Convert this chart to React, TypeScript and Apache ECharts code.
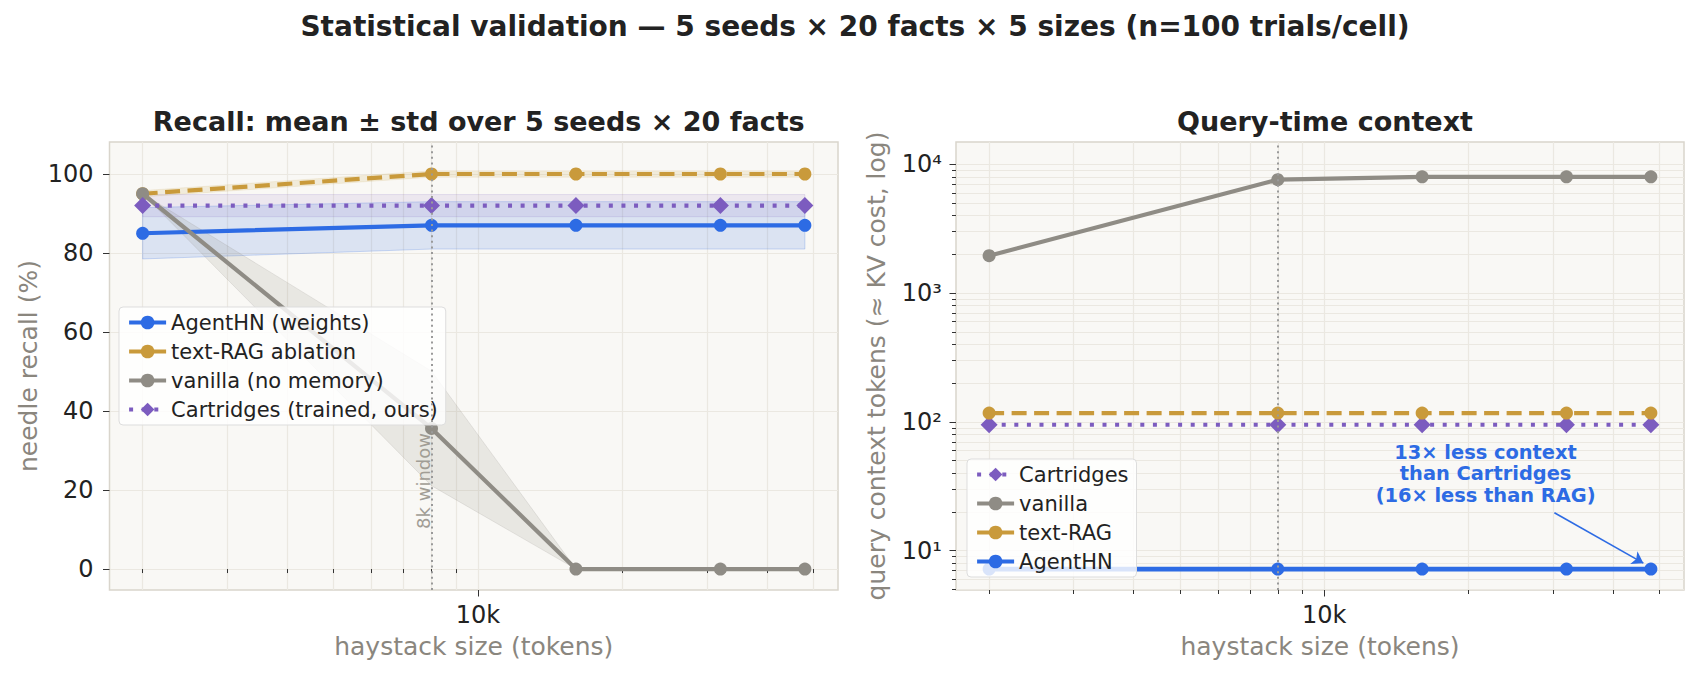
import React, { useEffect, useRef } from 'react';
import * as echarts from 'echarts';

// ---- data ----
const sizes = [2000, 8000, 16000, 32000, 48000];

// needle recall (%), mean and std over seeds
const recallAgent = [85, 87, 87, 87, 87];
const recallAgentStd = [6.5, 6, 6, 6, 6];
const recallRag = [95, 100, 100, 100, 100];
const recallRagStd = [0.8, 0.8, 0.8, 0.8, 0.8];
const recallVanilla = [95, 35.6, 0, 0, 0];
const recallVanillaStd = [0, 14.5, 0, 0, 0];
const recallCart = [92, 92, 92, 92, 92];
const recallCartStd = [2.8, 2.8, 2.8, 2.8, 2.8];

// query-time context tokens
const ctxCart = [95, 95, 95, 95, 95];
const ctxVanilla = [1950, 7600, 8000, 8000, 8000];
const ctxRag = [117, 117, 117, 117, 117];
const ctxAgent = [7.2, 7.2, 7.2, 7.2, 7.2];

// ticks
const xMinorTicks = [2000, 3000, 4000, 5000, 6000, 7000, 8000, 9000, 20000, 30000, 40000, 50000];
const xMajorTicks = [10000];
const recallTicks = [0, 20, 40, 60, 80, 100];
const logMajorTicks = [10, 100, 1000, 10000];
const logMinorTicks = [
  5, 6, 7, 8, 9,
  20, 30, 40, 50, 60, 70, 80, 90,
  200, 300, 400, 500, 600, 700, 800, 900,
  2000, 3000, 4000, 5000, 6000, 7000, 8000, 9000,
];

const windowSize = 8000;
const annotationLines = ['13× less context', 'than Cartridges', '(16× less than RAG)'];

// ---- styling ----
const FONT = 'DejaVu Sans';
const BLUE = '#2d6be4';
const GOLD = '#c99a3b';
const GRAY = '#8f8c85';
const PURPLE = '#7c5cbf';
const GRID_BG = '#f9f8f5';
const GRID_BORDER = '#d9d5cc';
const GRID_LINE = '#ebe8e1';
const AXIS_NAME = '#8a867e';
const TEXT = '#222222';

const TICK_FONT = 24;
const NAME_FONT = 25;
const TITLE_FONT = 27;

const X_MIN = 1706;
const X_MAX = 56270;

const SUP: Record<string, string> = { '0': '⁰', '1': '¹', '2': '²', '3': '³', '4': '⁴', '5': '⁵', '6': '⁶', '7': '⁷', '8': '⁸', '9': '⁹' };
const powLabel = (v: number) =>
  '10' + String(Math.round(Math.log10(v))).split('').map((c) => SUP[c]).join('');

const pairs = (ys: number[]) => sizes.map((x, i) => [x, ys[i]]);

const tickLine = { color: '#333333', width: 1 };
const splitLine = { show: true, lineStyle: { color: GRID_LINE, width: 1.2 } };

function xAxesFor(gridIndex: number) {
  const common = {
    type: 'log',
    logBase: 10,
    gridIndex,
    min: X_MIN,
    max: X_MAX,
    position: 'bottom',
    axisLine: { show: false },
  };
  return [
    {
      ...common,
      axisTick: { show: true, customValues: xMinorTicks, length: 4, lineStyle: tickLine },
      axisLabel: { show: false },
      splitLine,
    },
    {
      ...common,
      axisTick: { show: true, customValues: xMajorTicks, length: 6.5, lineStyle: tickLine },
      axisLabel: {
        show: true,
        customValues: xMajorTicks,
        formatter: (v: number) => `${Math.round(v / 1000)}k`,
        fontSize: TICK_FONT,
        color: TEXT,
        fontFamily: FONT,
        margin: 13,
      },
      splitLine,
      name: 'haystack size (tokens)',
      nameLocation: 'middle',
      nameGap: 44,
      nameTextStyle: { fontSize: NAME_FONT, color: AXIS_NAME, fontFamily: FONT },
    },
  ];
}

function band(
  xAxisIndex: number,
  yAxisIndex: number,
  mean: number[],
  std: number[],
  fill: string,
  stroke: string,
) {
  return {
    type: 'custom',
    xAxisIndex,
    yAxisIndex,
    silent: true,
    z: 1,
    data: [[sizes[0], mean[0]]],
    renderItem: (_p: any, api: any) => {
      const pts: number[][] = [];
      sizes.forEach((x, i) => pts.push(api.coord([x, mean[i] + std[i]])));
      for (let i = sizes.length - 1; i >= 0; i--) pts.push(api.coord([sizes[i], mean[i] - std[i]]));
      return {
        type: 'polygon',
        shape: { points: pts },
        style: { fill, stroke, lineWidth: 1 },
      };
    },
  };
}

function lineSeries(
  name: string,
  ys: number[],
  color: string,
  xAxisIndex: number,
  yAxisIndex: number,
  opts: { dash?: number[]; diamond?: boolean; width?: number } = {},
) {
  return {
    type: 'line',
    name,
    xAxisIndex,
    yAxisIndex,
    data: pairs(ys),
    symbol: opts.diamond ? 'diamond' : 'circle',
    symbolSize: opts.diamond ? 17 : 13,
    showSymbol: true,
    itemStyle: { color },
    lineStyle: {
      color,
      width: opts.width ?? 4.2,
      type: opts.dash ?? 'solid',
      cap: 'butt',
    },
    emphasis: { disabled: true },
    z: 3,
  };
}

const legendBase = {
  orient: 'vertical',
  itemWidth: 37,
  itemHeight: 17,
  itemGap: 6,
  padding: [4, 8, 4, 8],
  backgroundColor: 'rgba(255,255,255,0.82)',
  borderColor: '#dddddd',
  borderWidth: 1,
  borderRadius: 4,
  lineStyle: { width: 4.2 },
  textStyle: { fontSize: 21, color: TEXT, fontFamily: FONT, lineHeight: 23 },
  selectedMode: false,
};

function buildOption() {
  const leftVanilla: any = lineSeries('vanilla (no memory)', recallVanilla, GRAY, 0, 0);
  leftVanilla.markLine = {
    silent: true,
    symbol: ['none', 'none'],
    label: { show: false },
    lineStyle: { color: '#9a9a9a', width: 2, type: [2, 3.6] },
    data: [{ xAxis: windowSize }],
  };
  leftVanilla.markPoint = {
    silent: true,
    symbol: 'rect',
    symbolSize: 1,
    itemStyle: { color: 'transparent' },
    label: {
      show: true,
      position: 'inside',
      formatter: '8k window',
      rotate: 90,
      // offset is in the rotated frame: second component moves the text left
      offset: [0, -8],
      color: '#a19d95',
      fontSize: 18,
      fontFamily: FONT,
    },
    data: [{ coord: [windowSize, 22.3] }],
  };

  const rightVanilla: any = lineSeries('vanilla', ctxVanilla, GRAY, 2, 1);
  rightVanilla.markLine = {
    silent: true,
    symbol: ['none', 'none'],
    label: { show: false },
    lineStyle: { color: '#9a9a9a', width: 2, type: [2, 3.6] },
    data: [{ xAxis: windowSize }],
  };

  const rightAgent: any = lineSeries('AgentHN', ctxAgent, BLUE, 2, 1, { width: 4.8 });
  rightAgent.markLine = {
    silent: true,
    symbol: ['none', 'arrow'],
    symbolSize: 11,
    label: { show: false },
    lineStyle: { color: BLUE, width: 1.6, type: 'solid' },
    data: [[{ coord: [30200, 19.7] }, { coord: [46300, 8.0] }]],
  };
  rightAgent.markPoint = {
    silent: true,
    symbol: 'rect',
    symbolSize: 1,
    itemStyle: { color: 'transparent' },
    label: {
      show: true,
      position: 'inside',
      formatter: annotationLines.join('\n'),
      color: BLUE,
      fontWeight: 'bold',
      fontSize: 19.4,
      lineHeight: 21.7,
      align: 'center',
      fontFamily: FONT,
    },
    data: [{ coord: [21700, 39.4] }],
  };

  const leftNames = ['AgentHN (weights)', 'text-RAG ablation', 'vanilla (no memory)', 'Cartridges (trained, ours)'];
  const rightNames = ['Cartridges', 'vanilla', 'text-RAG', 'AgentHN'];

  const titleStyle = { fontSize: TITLE_FONT, fontWeight: 'bold', color: TEXT, fontFamily: FONT };

  return {
    animation: false,
    backgroundColor: '#ffffff',
    textStyle: { fontFamily: FONT },
    title: [
      {
        text: 'Statistical validation — 5 seeds × 20 facts × 5 sizes (n=100 trials/cell)',
        left: 850,
        top: 7,
        textAlign: 'center',
        textStyle: { ...titleStyle, fontSize: 28 },
      },
      {
        text: 'Recall: mean ± std over 5 seeds × 20 facts',
        left: 473.75,
        top: 103,
        textAlign: 'center',
        textStyle: titleStyle,
      },
      {
        text: 'Query-time context',
        left: 1320,
        top: 103,
        textAlign: 'center',
        textStyle: titleStyle,
      },
    ],
    legend: [
      { ...legendBase, data: leftNames, left: 119, top: 307 },
      { ...legendBase, data: rightNames, left: 967, top: 459 },
    ],
    grid: [
      {
        left: 109.5, top: 142, width: 728.5, height: 448,
        show: true, backgroundColor: GRID_BG, borderColor: GRID_BORDER, borderWidth: 1.5,
        outerBoundsMode: 'none',
      },
      {
        left: 956, top: 142, width: 728, height: 448,
        show: true, backgroundColor: GRID_BG, borderColor: GRID_BORDER, borderWidth: 1.5,
        outerBoundsMode: 'none',
      },
    ],
    xAxis: [...xAxesFor(0), ...xAxesFor(1)],
    yAxis: [
      {
        type: 'value',
        gridIndex: 0,
        position: 'left',
        min: -5.3,
        max: 108.1,
        axisLine: { show: false },
        axisTick: { show: true, customValues: recallTicks, length: 6.5, lineStyle: tickLine },
        axisLabel: { customValues: recallTicks, fontSize: TICK_FONT, color: TEXT, fontFamily: FONT, margin: 16 },
        splitLine,
        name: 'needle recall (%)',
        nameLocation: 'middle',
        nameGap: 69,
        nameTextStyle: { fontSize: NAME_FONT, color: AXIS_NAME, fontFamily: FONT },
      },
      {
        type: 'log',
        logBase: 10,
        gridIndex: 1,
        position: 'left',
        min: 4.95,
        max: 14900,
        axisLine: { show: false },
        axisTick: { show: true, customValues: logMinorTicks, length: 4, lineStyle: tickLine },
        axisLabel: { show: false },
        splitLine,
      },
      {
        type: 'log',
        logBase: 10,
        gridIndex: 1,
        position: 'left',
        offset: 0,
        min: 4.95,
        max: 14900,
        axisLine: { show: false },
        axisTick: { show: true, customValues: logMajorTicks, length: 6.5, lineStyle: tickLine },
        axisLabel: {
          customValues: logMajorTicks,
          formatter: powLabel,
          fontSize: TICK_FONT,
          color: TEXT,
          fontFamily: FONT,
          margin: 14,
        },
        splitLine,
        name: 'query context tokens (≈ KV cost, log)',
        nameLocation: 'middle',
        nameGap: 67,
        nameTextStyle: { fontSize: NAME_FONT, color: AXIS_NAME, fontFamily: FONT },
      },
    ],
    series: [
      // left: recall bands
      band(0, 0, recallAgent, recallAgentStd, 'rgba(45,107,228,0.15)', 'rgba(45,107,228,0.22)'),
      band(0, 0, recallRag, recallRagStd, 'rgba(201,154,59,0.14)', 'rgba(201,154,59,0.1)'),
      band(0, 0, recallVanilla, recallVanillaStd, 'rgba(143,140,133,0.16)', 'rgba(143,140,133,0.18)'),
      band(0, 0, recallCart, recallCartStd, 'rgba(124,92,191,0.1)', 'rgba(124,92,191,0.15)'),
      // left: recall lines
      lineSeries('AgentHN (weights)', recallAgent, BLUE, 0, 0),
      lineSeries('text-RAG ablation', recallRag, GOLD, 0, 0, { dash: [15, 7.5] }),
      leftVanilla,
      lineSeries('Cartridges (trained, ours)', recallCart, PURPLE, 0, 0, { dash: [4, 8.6], diamond: true }),
      // right: query-time context
      lineSeries('Cartridges', ctxCart, PURPLE, 2, 1, { dash: [4, 8.6], diamond: true }),
      rightVanilla,
      lineSeries('text-RAG', ctxRag, GOLD, 2, 1, { dash: [15, 7.5] }),
      rightAgent,
    ],
  };
}

export default function App() {
  const ref = useRef<HTMLDivElement>(null);
  useEffect(() => {
    if (!ref.current) return;
    const chart = echarts.init(ref.current, null, { renderer: 'svg' });
    chart.setOption(buildOption() as any);
    return () => chart.dispose();
  }, []);
  return (
    <div
      ref={ref}
      style={{ position: 'fixed', left: 0, top: 0, width: 1700, height: 676, background: '#ffffff' }}
    />
  );
}
